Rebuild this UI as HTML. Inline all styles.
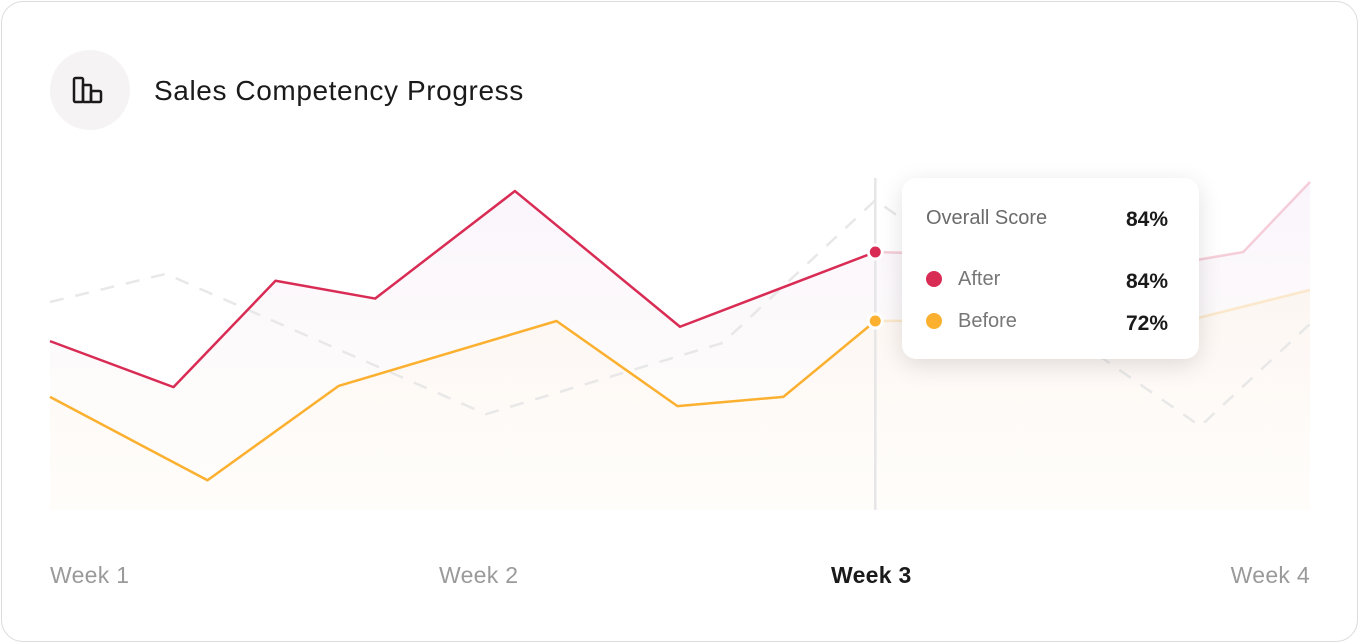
<!DOCTYPE html>
<html><head><meta charset="utf-8"><style>
body{margin:0;background:#fff;font-family:"Liberation Sans",sans-serif}
#card{position:absolute;left:1px;top:1px;width:1355px;height:639px;border:1px solid #dcdcdc;border-radius:22px;background:#fff}
#icon{position:absolute;left:50px;top:50px;width:80px;height:80px;border-radius:50%;background:#f5f3f3}
#title{position:absolute;left:154px;top:75px;font-size:28px;color:#1a1a1a;letter-spacing:0.6px}
#tip{position:absolute;left:902px;top:178px;width:297px;height:181px;background:#fff;border-radius:14px;box-shadow:0 6px 24px rgba(0,0,0,0.12)}
.t{position:absolute;font-size:20px;color:#777}
.v{position:absolute;right:31px;font-size:21px;font-weight:bold;color:#1a1a1a}
.dot{position:absolute;left:24px;width:16px;height:16px;border-radius:50%}
.wk{position:absolute;top:562px;font-size:23px;color:#9a9a9a;letter-spacing:0.3px}
</style></head><body>
<div id="card"></div>
<div id="icon"><svg width="80" height="80"><g fill="none" stroke="#1a1a1a" stroke-width="2.5"><rect x="24" y="28" width="9" height="24" rx="1.5"/><rect x="33" y="35" width="8" height="17" rx="1"/><rect x="41" y="41" width="10" height="11" rx="1.5"/></g></svg></div>
<div id="title">Sales Competency Progress</div>
<svg id="chart" width="1359" height="643" style="position:absolute;left:0;top:0"></svg>
<div id="tip">
<div class="t" style="left:24px;top:29px;color:#6b6b6b">Overall Score</div>
<div class="v" style="top:30px">84%</div>
<div class="dot" style="top:93px;background:#d92c55"></div>
<div class="t" style="left:56px;top:90px">After</div>
<div class="v" style="top:92px">84%</div>
<div class="dot" style="top:135px;background:#fbb030"></div>
<div class="t" style="left:56px;top:132px">Before</div>
<div class="v" style="top:134px">72%</div>
</div>
<div class="wk" style="left:50px">Week 1</div>
<div class="wk" style="left:439px">Week 2</div>
<div class="wk" style="left:831px;color:#1a1a1a;font-weight:bold">Week 3</div>
<div class="wk" style="right:49px">Week 4</div>
<script>
const afterX=[0,0.098,0.179,0.258,0.369,0.500,0.655,0.907,0.947,1];
const afterV=[68.5,60.5,79,75.9,94.6,71,84,82.5,84,96.2];
const beforeX=[0,0.125,0.229,0.402,0.498,0.582,0.655,0.907,1];
const beforeV=[58.8,44.3,60.7,72,57.2,58.8,72,72.3,77.4];
const prevX=[0,0.092,0.346,0.534,0.655,0.913,1];
const prevV=[75.3,80.2,55.8,68.2,93,53.7,71.5];
const hoverX=0.655;
const X0=50,X1=1310,BASE=510;
function sx(f){return X0+f*(X1-X0);}
function sy(v){return 252+(84-v)*5.75;}
const svg=document.getElementById('chart');
const NS='http://www.w3.org/2000/svg';
function mk(t,a){const e=document.createElementNS(NS,t);for(const k in a)e.setAttribute(k,a[k]);svg.appendChild(e);return e;}
function pts(xs,vs){return xs.map((x,i)=>sx(x)+','+sy(vs[i])).join(' ');}
const hx=sx(hoverX);
const defs=mk('defs',{});
defs.innerHTML='<linearGradient id="ga" x1="0" y1="0" x2="0" y2="1"><stop offset="0" stop-color="#efe2f7" stop-opacity="0.35"/><stop offset="1" stop-color="#fff4e6" stop-opacity="0.15"/></linearGradient><linearGradient id="gb" x1="0" y1="0" x2="0" y2="1"><stop offset="0" stop-color="#fdf0dc" stop-opacity="0.3"/><stop offset="1" stop-color="#fff8ee" stop-opacity="0.1"/></linearGradient><clipPath id="cl"><rect x="0" y="0" width="'+hx+'" height="643"/></clipPath><clipPath id="cr"><rect x="'+hx+'" y="0" width="600" height="643"/></clipPath>';
let a=mk('polygon',{points:sx(0)+','+BASE+' '+pts(afterX,afterV)+' '+sx(1)+','+BASE,fill:'url(#ga)'});

let b=mk('polygon',{points:sx(0)+','+BASE+' '+pts(beforeX,beforeV)+' '+sx(1)+','+BASE,fill:'url(#gb)'});

let p=mk('polyline',{points:pts(prevX,prevV),fill:'none',stroke:'#e8e8e8','stroke-width':2.5,'stroke-dasharray':'14 12'});

let hl=mk('line',{x1:hx,x2:hx,y1:178,y2:510,stroke:'#e6e6e8','stroke-width':2.5});

[['after',afterX,afterV,'#d92c55'],['before',beforeX,beforeV,'#fbb030']].forEach(s=>{
 let l1=mk('polyline',{points:pts(s[1],s[2]),fill:'none',stroke:s[3],'stroke-width':2.5,'clip-path':'url(#cl)','stroke-linejoin':'round'});
 
 let l2=mk('polyline',{points:pts(s[1],s[2]),fill:'none',stroke:s[3],'stroke-opacity':0.22,'stroke-width':2.5,'clip-path':'url(#cr)'});
 
 const i=s[1].indexOf(hoverX);
 let c=mk('circle',{cx:hx,cy:sy(s[2][i]),r:7,fill:s[3],stroke:'#fff','stroke-width':3});
 
});
</script>
</body></html>
